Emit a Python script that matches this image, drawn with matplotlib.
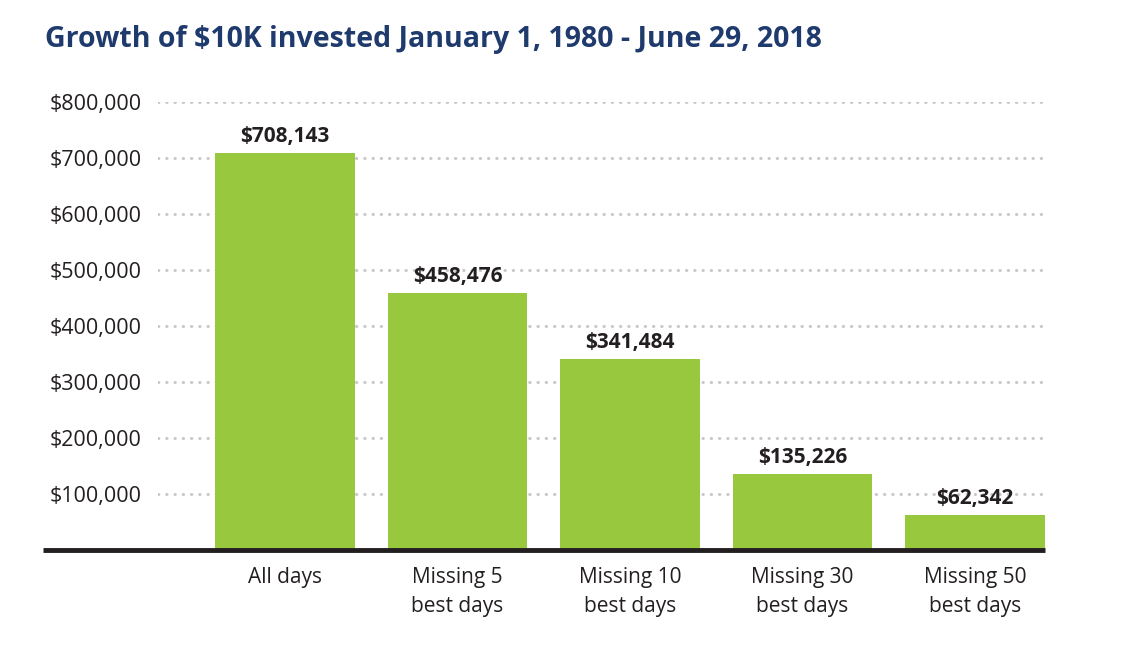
import matplotlib.pyplot as plt
from matplotlib.ticker import FuncFormatter

plt.rcParams['font.family'] = ['Open Sans', 'DejaVu Sans']

# data
categorias = ["All days", "Missing 5\nbest days", "Missing 10\nbest days",
              "Missing 30\nbest days", "Missing 50\nbest days"]
valores = [708143, 458476, 341484, 135226, 62342]
ticks_y = [100000, 200000, 300000, 400000, 500000, 600000, 700000, 800000]

verde = "#97c83e"
azul = "#1f3a6d"
texto = "#231f20"

fig = plt.figure(figsize=(11.4, 6.6), dpi=100)
ax = fig.add_axes([158 / 1140, 1 - 550 / 660, 887 / 1140, (550 - 102) / 660])

x = list(range(len(categorias)))
ax.bar(x, valores, width=0.81, color=verde, zorder=3)

for xi, v in zip(x, valores):
    ax.text(xi, v + 11000, f"${v:,.0f}", ha="center", va="bottom",
            fontsize=15, fontweight="bold", color=texto, zorder=4)

# linhas de grade pontilhadas
for t in ticks_y:
    ax.axhline(t, color="#c8c8c8", linewidth=2.2, linestyle=(0, (0.1, 2.6)),
               dash_capstyle="round", zorder=1)

ax.set_xlim(-0.736, 4.406)
ax.set_ylim(0, 800000)
ax.set_yticks(ticks_y)
ax.yaxis.set_major_formatter(FuncFormatter(lambda v, p: f"${v:,.0f}"))
ax.set_xticks(x)
ax.set_xticklabels(categorias, fontsize=15, color=texto, linespacing=1.5)
ax.tick_params(axis="y", length=0, pad=12, labelsize=15.5, labelcolor=texto)
ax.tick_params(axis="x", length=0, pad=12)

for s in ["top", "right", "left", "bottom"]:
    ax.spines[s].set_visible(False)

# linha base, vai ate a esquerda dos rotulos
fig.add_artist(plt.Line2D([43 / 1140, 1045 / 1140], [1 - 550 / 660, 1 - 550 / 660],
                          color=texto, linewidth=3.5, solid_capstyle="butt"))

fig.text(45 / 1140, 1 - 40 / 660, "Growth of $10K invested January 1, 1980 - June 29, 2018",
         fontsize=20.5, fontweight="bold", color=azul, va="center", ha="left")

fig.savefig("out.png", dpi=100)
